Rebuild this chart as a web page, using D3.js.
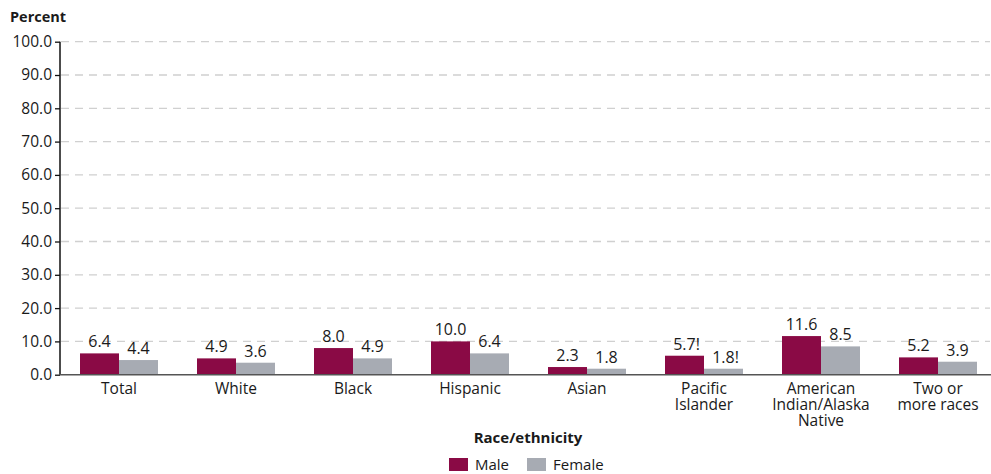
<!DOCTYPE html>
<html><head><meta charset="utf-8">
<script src="https://cdn.jsdelivr.net/npm/d3@7"></script>
<style>body{margin:0;background:#fff}svg{display:block}text{font-family:"Open Sans",sans-serif;fill:#1a1a1a}</style>
</head><body><svg id="c" width="991" height="474"></svg>
<script>
const categories = [["Total"],["White"],["Black"],["Hispanic"],["Asian"],["Pacific","Islander"],["American","Indian/Alaska","Native"],["Two or","more races"]];
const maleValues = [6.4,4.9,8.0,10.0,2.3,5.7,11.6,5.2];
const femaleValues = [4.4,3.6,4.9,6.4,1.8,1.8,8.5,3.9];
const maleLabels = ["6.4","4.9","8.0","10.0","2.3","5.7!","11.6","5.2"];
const femaleLabels = ["4.4","3.6","4.9","6.4","1.8","1.8!","8.5","3.9"];
const yTicks = [0,10,20,30,40,50,60,70,80,90,100];
const seriesNames = ["Male","Female"];
const colors = ["#8a0a45","#a7abb3"];

const svg = d3.select("#c");
const y = d3.scaleLinear().domain([0,100]).range([374.7,41.7]);
const keys = categories.map(c=>c.join(" "));
const x = d3.scaleBand().domain(keys).range([60.5,996.5]).paddingInner(1/3).paddingOuter(1/6);
const xs = d3.scaleBand().domain(seriesNames).range([0,x.bandwidth()]);

// gridlines
svg.append("g").selectAll("line").data(yTicks.filter(d=>d>0)).join("line")
  .attr("x1",61).attr("x2",990).attr("y1",d=>y(d)).attr("y2",d=>y(d))
  .attr("stroke","#d0d0d0").attr("stroke-width",1.3).attr("stroke-dasharray","8,6");

// y axis
const ya = svg.append("g").attr("transform","translate(60,0)")
  .call(d3.axisLeft(y).tickValues(yTicks).tickFormat(d3.format(".1f")).tickSize(5).tickPadding(3));
ya.select(".domain").attr("stroke","#111").attr("stroke-width",1.5).attr("d","M0,374.7V41.7");
ya.selectAll(".tick line").attr("stroke","#111").attr("stroke-width",1.3);
ya.selectAll(".tick text").style("font-size","15.5px").style("font-family","'Open Sans',sans-serif").attr("fill","#1a1a1a");

// bars
const g = svg.append("g");
keys.forEach((k,i)=>{
  const vals=[maleValues[i],femaleValues[i]], labs=[maleLabels[i],femaleLabels[i]];
  seriesNames.forEach((s,j)=>{
    const bx = x(k)+xs(s);
    g.append("rect").attr("x",bx).attr("width",xs.bandwidth()).attr("y",y(vals[j])).attr("height",y(0)-y(vals[j])).attr("fill",colors[j]);
    g.append("text").attr("x",bx+xs.bandwidth()/2+(labs[j].endsWith("!")?2:0)).attr("y",y(vals[j])-6).attr("text-anchor","middle")
      .style("font-size","16px").text(labs[j]);
  });
});

// x axis baseline
svg.append("line").attr("x1",60).attr("x2",991).attr("y1",y(0)).attr("y2",y(0)).attr("stroke","#555").attr("stroke-width",1.5);

// category labels
keys.forEach((k,i)=>{
  const t = svg.append("text").attr("text-anchor","middle").style("font-size","15.5px");
  categories[i].forEach((line,li)=>{
    t.append("tspan").attr("x",x(k)+x.bandwidth()/2).attr("y",394+li*16).text(line);
  });
});

svg.append("text").attr("x",10).attr("y",22).style("font-size","14.5px").style("font-weight","bold").text("Percent");
svg.append("text").attr("x",528).attr("y",443).attr("text-anchor","middle").style("font-size","15px").style("font-weight","bold").text("Race/ethnicity");

// legend
const lg = svg.append("g");
const lx=[449,527];
seriesNames.forEach((s,j)=>{
  lg.append("rect").attr("x",lx[j]).attr("y",458).attr("width",19).attr("height",13).attr("fill",colors[j]);
  lg.append("text").attr("x",lx[j]+26).attr("y",470).style("font-size","15px").text(s);
});
</script></body></html>
